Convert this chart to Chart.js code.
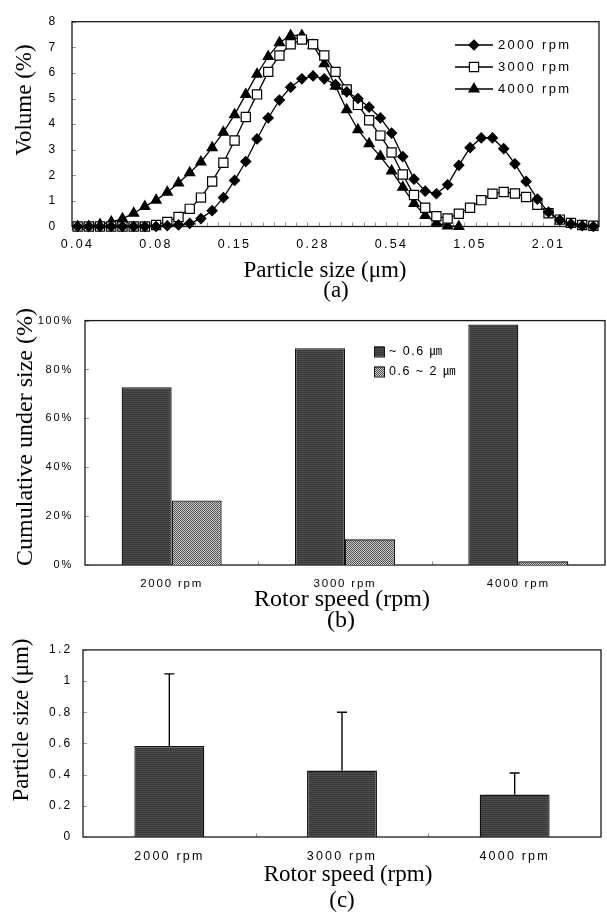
<!DOCTYPE html>
<html>
<head>
<meta charset="utf-8">
<script src="https://cdn.jsdelivr.net/npm/chart.js@4.4.1/dist/chart.umd.min.js"></script>
<style>
  html, body { margin: 0; background: #fff; width: 607px; height: 914px; overflow: hidden; }
  canvas.panel { position: absolute; left: 0; }
</style>
</head>
<body>
<canvas id="chartA" class="panel" width="607" height="302" style="top:0"></canvas>
<canvas id="chartB" class="panel" width="607" height="330" style="top:302px"></canvas>
<canvas id="chartC" class="panel" width="607" height="282" style="top:632px"></canvas>
<script>
  // (a) particle size distribution
  const sizes = [0.040, 0.044, 0.048, 0.053, 0.058, 0.064, 0.070, 0.077, 0.084, 0.093,
    0.102, 0.112, 0.123, 0.134, 0.148, 0.162, 0.178, 0.195, 0.214, 0.235,
    0.258, 0.284, 0.311, 0.342, 0.375, 0.412, 0.452, 0.496, 0.544, 0.598,
    0.656, 0.720, 0.791, 0.868, 0.953, 1.046, 1.148, 1.260, 1.383, 1.518,
    1.667, 1.830, 2.009, 2.205, 2.420, 2.657, 2.917];
  const vol2000 = [0, 0, 0, 0, 0, 0, 0, 0, 0.03, 0.06, 0.12, 0.31, 0.62, 1.13, 1.80, 2.54,
    3.42, 4.24, 4.94, 5.44, 5.77, 5.88, 5.77, 5.54, 5.26, 5.00, 4.66, 4.24, 3.65, 2.73,
    1.85, 1.38, 1.28, 1.63, 2.39, 3.08, 3.46, 3.46, 3.04, 2.45, 1.76, 1.07, 0.56, 0.25,
    0.10, 0.03, 0];
  const vol3000 = [0, 0, 0, 0, 0, 0, 0, 0.06, 0.18, 0.37, 0.69, 1.13, 1.76, 2.49, 3.36,
    4.28, 5.16, 6.04, 6.68, 7.12, 7.30, 7.12, 6.68, 6.04, 5.35, 4.75, 4.15, 3.55, 2.89,
    2.03, 1.23, 0.73, 0.40, 0.31, 0.50, 0.73, 1.03, 1.28, 1.35, 1.29, 1.15, 0.85, 0.52,
    0.27, 0.14, 0.06, 0.03];
  const vol4000 = [0, 0, 0.08, 0.18, 0.30, 0.52, 0.78, 1.03, 1.34, 1.70, 2.10, 2.52, 3.08,
    3.68, 4.37, 5.16, 5.95, 6.64, 7.18, 7.46, 7.46, 7.08, 6.36, 5.48, 4.56, 3.78, 3.23,
    2.74, 2.17, 1.53, 0.90, 0.43, 0.14, 0.02, 0,
    null, null, null, null, null, null, null, null, null, null, null, null];
  const labelEvery = 7;

  // (b) cumulative under size
  const speeds = ['2000 rpm', '3000 rpm', '4000 rpm'];
  const under06 = [72.7, 88.7, 98.4];
  const mid06to2 = [26.4, 10.5, 1.5];

  // (c) mean particle size with upper error
  const meanSize = [0.583, 0.426, 0.272];
  const sizeErr = [0.463, 0.374, 0.138];

  const SANS = '"Liberation Sans", Arial, "Noto Sans CJK KR", sans-serif';
  const SERIF = '"Liberation Serif", "Times New Roman", serif';
  Chart.defaults.font.family = SANS;
  Chart.defaults.color = '#000';

  function makePattern(w, h, paint) {
    const c = document.createElement('canvas');
    c.width = w; c.height = h;
    paint(c.getContext('2d'));
    return c.getContext('2d').createPattern(c, 'repeat');
  }
  const darkFill = makePattern(2, 2, g => {
    g.fillStyle = '#3a3a3a'; g.fillRect(0, 0, 2, 1);
    g.fillStyle = '#4c4c4c'; g.fillRect(0, 1, 2, 1);
  });
  const checkFill = makePattern(2, 2, g => {
    g.fillStyle = '#c8c8c8'; g.fillRect(0, 0, 2, 2);
    g.fillStyle = '#555'; g.fillRect(0, 0, 1, 1); g.fillRect(1, 1, 1, 1);
  });

  // box around the plot + short inward ticks
  const frame = {
    id: 'frame',
    beforeDatasetsDraw(chart) {
      const { ctx, chartArea: a } = chart;
      const x = chart.scales.x, y = chart.scales.y;
      ctx.save();
      ctx.strokeStyle = '#999';
      ctx.lineWidth = 1;
      ctx.beginPath();
      const n = x.getLabels().length;
      for (let i = 1; i < n; i++) {
        const px = Math.round((x.getPixelForValue(i - 1) + x.getPixelForValue(i)) / 2) + 0.5;
        ctx.moveTo(px, a.bottom); ctx.lineTo(px, a.bottom - 4);
      }
      y.ticks.forEach(t => {
        const py = Math.round(y.getPixelForValue(t.value)) + 0.5;
        ctx.moveTo(a.left, py); ctx.lineTo(a.left + 4, py);
      });
      ctx.stroke();
      ctx.strokeStyle = '#1a1a1a';
      ctx.lineWidth = 1.3;
      ctx.strokeRect(a.left, a.top, a.right - a.left, a.bottom - a.top);
      ctx.restore();
    }
  };

  // spaced tick text, serif axis titles and panel tag
  const panelText = {
    id: 'panelText',
    beforeDraw(chart, args, o) { chart.ctx.letterSpacing = o.spacing; },
    afterDraw(chart, args, o) {
      const ctx = chart.ctx;
      ctx.save();
      ctx.letterSpacing = '0px';
      ctx.fillStyle = '#000';
      ctx.textAlign = 'center';
      ctx.textBaseline = 'middle';
      ctx.font = o.titleFont;
      ctx.fillText(o.xTitle, o.xTitleAt[0], o.xTitleAt[1]);
      ctx.fillText(o.tag, o.tagAt[0], o.tagAt[1]);
      ctx.translate(o.yTitleAt[0], o.yTitleAt[1]);
      ctx.rotate(-Math.PI / 2);
      ctx.fillText(o.yTitle, 0, 0);
      ctx.restore();
    }
  };

  const lineLegend = {
    id: 'lineLegend',
    afterDraw(chart, args, o) {
      if (!o.x) return;
      const ctx = chart.ctx;
      ctx.save();
      ctx.letterSpacing = o.spacing;
      ctx.font = o.font;
      ctx.textBaseline = 'middle';
      ctx.textAlign = 'left';
      chart.data.datasets.forEach((ds, i) => {
        const y = o.y + i * o.row;
        ctx.strokeStyle = ds.borderColor;
        ctx.lineWidth = ds.borderWidth;
        ctx.beginPath(); ctx.moveTo(o.x, y); ctx.lineTo(o.x + o.len, y); ctx.stroke();
        ctx.fillStyle = ds.pointBackgroundColor;
        ctx.strokeStyle = ds.pointBorderColor;
        ctx.lineWidth = ds.pointBorderWidth;
        Chart.helpers.drawPoint(ctx, { pointStyle: ds.pointStyle, radius: ds.pointRadius,
          borderWidth: ds.pointBorderWidth, rotation: 0 }, o.x + o.len / 2, y);
        ctx.fillStyle = '#000';
        ctx.fillText(ds.label, o.x + o.len + o.gap, y);
      });
      ctx.restore();
    }
  };

  const boxLegend = {
    id: 'boxLegend',
    afterDraw(chart, args, o) {
      if (!o.x) return;
      const ctx = chart.ctx;
      ctx.save();
      ctx.letterSpacing = o.spacing;
      ctx.font = o.font;
      ctx.textBaseline = 'middle';
      ctx.textAlign = 'left';
      chart.data.datasets.forEach((ds, i) => {
        const y = o.y + i * o.row;
        ctx.fillStyle = ds.backgroundColor;
        ctx.fillRect(o.x, y - 5, 10, 10);
        ctx.strokeStyle = '#111';
        ctx.lineWidth = 1;
        ctx.strokeRect(o.x + 0.5, y - 4.5, 10, 10);
        ctx.fillStyle = '#000';
        ctx.fillText(ds.label, o.x + 15, y);
      });
      ctx.restore();
    }
  };

  const errorBars = {
    id: 'errorBars',
    afterDatasetsDraw(chart, args, o) {
      if (!o.errors) return;
      const ctx = chart.ctx, y = chart.scales.y;
      const vals = chart.data.datasets[0].data;
      ctx.save();
      ctx.strokeStyle = '#000';
      ctx.lineWidth = 1.4;
      chart.getDatasetMeta(0).data.forEach((bar, i) => {
        const top = y.getPixelForValue(vals[i] + o.errors[i]);
        ctx.beginPath();
        ctx.moveTo(bar.x, bar.y); ctx.lineTo(bar.x, top);
        ctx.moveTo(bar.x - 5, top); ctx.lineTo(bar.x + 5, top);
        ctx.stroke();
      });
      ctx.restore();
    }
  };

  Chart.register(frame, panelText, lineLegend, boxLegend, errorBars);

  function lineSet(label, data, style, radius, fill) {
    return {
      label, data,
      borderColor: '#000', borderWidth: 1.3, tension: 0,
      pointStyle: style, pointRadius: radius,
      pointBackgroundColor: fill, pointBorderColor: '#000', pointBorderWidth: 1.2,
      clip: false
    };
  }

  new Chart(document.getElementById('chartA'), {
    type: 'line',
    data: {
      labels: sizes.map(s => s.toFixed(2)),
      datasets: [
        lineSet('2000 rpm', vol2000, 'rectRot', 5, '#000'),
        lineSet('3000 rpm', vol3000, 'rect', 6.5, '#fff'),
        lineSet('4000 rpm', vol4000, 'triangle', 5.8, '#000')
      ]
    },
    options: {
      responsive: false, animation: false, devicePixelRatio: 1,
      layout: { padding: { left: 0, top: 14, right: 8, bottom: 0 } },
      scales: {
        x: {
          offset: true,
          grid: { display: false, drawTicks: false },
          border: { display: false },
          ticks: {
            autoSkip: false, maxRotation: 0, padding: 11, font: { size: 12.5 },
            callback: function (v, i) { return i % labelEvery === 0 ? this.getLabelForValue(v) : ''; }
          },
          afterFit: s => { s.height = 75.5; }
        },
        y: {
          min: 0, max: 8,
          grid: { display: false, drawTicks: false },
          border: { display: false },
          ticks: { stepSize: 1, padding: 14.5, font: { size: 12 } },
          afterFit: s => { s.width = 72; }
        }
      },
      plugins: {
        legend: { display: false },
        tooltip: { enabled: false },
        panelText: {
          spacing: '2.3px', titleFont: '23px ' + SERIF,
          xTitle: 'Particle size (μm)', xTitleAt: [325, 271],
          tag: '(a)', tagAt: [336, 291],
          yTitle: 'Volume (%)', yTitleAt: [25, 100]
        },
        lineLegend: { x: 455, y: 45, row: 22, len: 38, gap: 5, font: '13px ' + SANS, spacing: '2.3px' }
      }
    }
  });

  new Chart(document.getElementById('chartB'), {
    type: 'bar',
    data: {
      labels: speeds,
      datasets: [
        { label: '~ 0.6 ㎛', data: under06, backgroundColor: darkFill,
          borderColor: '#111', borderWidth: 1.3, categoryPercentage: 0.577, barPercentage: 1 },
        { label: '0.6 ~ 2 ㎛', data: mid06to2, backgroundColor: checkFill,
          borderColor: '#111', borderWidth: 1.3, categoryPercentage: 0.577, barPercentage: 1 }
      ]
    },
    options: {
      responsive: false, animation: false, devicePixelRatio: 1,
      layout: { padding: { left: 0, top: 10, right: 2, bottom: 0 } },
      scales: {
        x: {
          grid: { display: false, drawTicks: false },
          border: { display: false },
          ticks: { padding: 12, font: { size: 11.5 } },
          afterFit: s => { s.height = 67; }
        },
        y: {
          min: 0, max: 100,
          grid: { display: false, drawTicks: false },
          border: { display: false },
          ticks: { stepSize: 20, padding: 12, font: { size: 11 }, callback: v => v + '%' },
          afterFit: s => { s.width = 85; }
        }
      },
      plugins: {
        legend: { display: false },
        tooltip: { enabled: false },
        panelText: {
          spacing: '1.8px', titleFont: '24px ' + SERIF,
          xTitle: 'Rotor speed (rpm)', xTitleAt: [342, 298],
          tag: '(b)', tagAt: [341, 319],
          yTitle: 'Cumulative under size (%)', yTitleAt: [26, 135]
        },
        boxLegend: { x: 374, y: 49.5, row: 20, font: '12.5px ' + SANS, spacing: '1.5px' }
      }
    }
  });

  new Chart(document.getElementById('chartC'), {
    type: 'bar',
    data: {
      labels: speeds,
      datasets: [
        { label: 'Particle size', data: meanSize, backgroundColor: darkFill,
          borderColor: '#111', borderWidth: 1.3, categoryPercentage: 0.405, barPercentage: 1 }
      ]
    },
    options: {
      responsive: false, animation: false, devicePixelRatio: 1,
      layout: { padding: { left: 0, top: 10, right: 6, bottom: 0 } },
      scales: {
        x: {
          grid: { display: false, drawTicks: false },
          border: { display: false },
          ticks: { padding: 12, font: { size: 12.5 } },
          afterFit: s => { s.height = 77; }
        },
        y: {
          min: 0, max: 1.2,
          grid: { display: false, drawTicks: false },
          border: { display: false },
          ticks: { stepSize: 0.2, padding: 10.7, font: { size: 12 }, callback: v => String(+v.toFixed(1)) },
          afterFit: s => { s.width = 83; }
        }
      },
      plugins: {
        legend: { display: false },
        tooltip: { enabled: false },
        panelText: {
          spacing: '2.2px', titleFont: '23px ' + SERIF,
          xTitle: 'Rotor speed (rpm)', xTitleAt: [348, 243],
          tag: '(c)', tagAt: [342, 269],
          yTitle: 'Particle size (μm)', yTitleAt: [22, 88]
        },
        errorBars: { errors: sizeErr }
      }
    }
  });
</script>
</body>
</html>
